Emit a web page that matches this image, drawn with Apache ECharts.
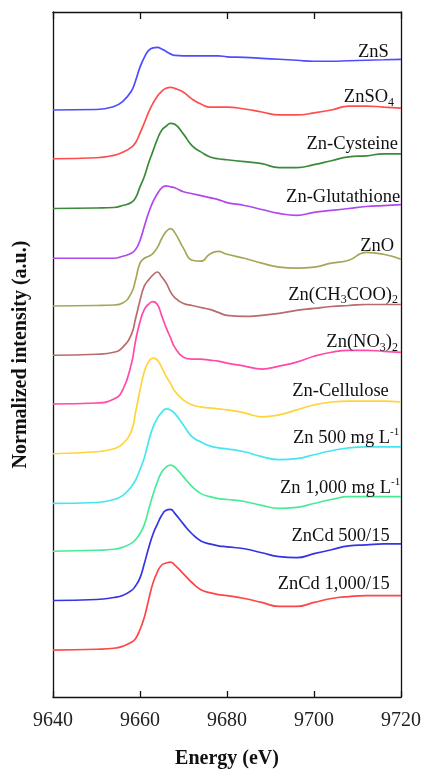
<!DOCTYPE html>
<html>
<head>
<meta charset="utf-8">
<script src="https://cdn.jsdelivr.net/npm/echarts/dist/echarts.min.js"></script>
<style>html,body{margin:0;padding:0;background:#fff;overflow:hidden}#chart{width:425px;height:774px}</style>
</head>
<body>
<div id="chart"></div>
<script>
// Energy grid (eV)
const energy = [9640, 9650, 9654, 9656, 9658, 9659, 9660, 9661, 9662, 9663, 9664, 9665, 9666, 9667, 9668, 9670, 9672, 9674, 9676, 9678, 9680, 9684, 9688, 9692, 9696, 9700, 9704, 9708, 9712, 9716, 9720];
const xTicks = [9640, 9660, 9680, 9700, 9720];

// Normalized intensities (edge step = 1)
const ZnS      = [0, 0.01, 0.07, 0.17, 0.38, 0.60, 0.87, 1.07, 1.21, 1.26, 1.27, 1.24, 1.19, 1.14, 1.11, 1.10, 1.10, 1.10, 1.10, 1.10, 1.08, 1.07, 1.05, 1.03, 1.01, 0.99, 0.99, 1.00, 1.01, 1.02, 1.03];
const ZnSO4    = [0, 0.02, 0.07, 0.13, 0.23, 0.33, 0.52, 0.73, 0.95, 1.13, 1.27, 1.37, 1.43, 1.45, 1.43, 1.35, 1.21, 1.11, 1.05, 1.05, 1.05, 1.01, 0.95, 0.89, 0.89, 0.93, 0.99, 1.07, 1.07, 1.05, 1.03];
const ZnCys    = [0, 0.01, 0.02, 0.06, 0.12, 0.22, 0.44, 0.65, 0.93, 1.17, 1.41, 1.59, 1.67, 1.73, 1.71, 1.51, 1.27, 1.15, 1.05, 1.01, 0.99, 0.95, 0.91, 0.83, 0.83, 0.89, 0.97, 1.05, 1.07, 1.11, 1.11];
const ZnGlu    = [0, 0, 0, 0.04, 0.10, 0.18, 0.36, 0.65, 0.93, 1.15, 1.31, 1.43, 1.47, 1.45, 1.43, 1.35, 1.31, 1.27, 1.23, 1.19, 1.13, 1.07, 0.99, 0.91, 0.87, 0.93, 0.97, 1.01, 1.05, 1.07, 1.09];
const ZnO      = [0, 0.01, 0.02, 0.06, 0.26, 0.54, 0.87, 0.97, 1.01, 1.07, 1.19, 1.37, 1.51, 1.57, 1.49, 1.17, 0.93, 0.91, 1.05, 1.11, 1.05, 0.97, 0.87, 0.79, 0.77, 0.79, 0.87, 0.93, 1.09, 1.05, 0.95];
const ZnAc     = [0, 0.02, 0.06, 0.16, 0.42, 0.75, 1.11, 1.41, 1.53, 1.63, 1.69, 1.59, 1.47, 1.29, 1.17, 1.05, 1.01, 0.97, 0.93, 0.87, 0.81, 0.79, 0.81, 0.85, 0.91, 0.95, 0.99, 1.01, 1.03, 1.03, 1.03];
const ZnNO3    = [0, 0.02, 0.10, 0.28, 0.81, 1.29, 1.67, 1.92, 2.03, 2.08, 2.02, 1.79, 1.55, 1.35, 1.15, 0.95, 0.91, 0.91, 0.89, 0.87, 0.83, 0.77, 0.71, 0.77, 0.85, 0.97, 1.05, 1.09, 1.09, 1.07, 1.05];
const ZnCell   = [0, 0.04, 0.10, 0.20, 0.46, 0.85, 1.29, 1.67, 1.87, 1.94, 1.90, 1.75, 1.57, 1.43, 1.27, 1.09, 0.99, 0.95, 0.93, 0.91, 0.89, 0.83, 0.75, 0.79, 0.89, 0.99, 1.05, 1.07, 1.07, 1.07, 1.05];
const Zn500    = [0, 0.02, 0.08, 0.16, 0.34, 0.48, 0.69, 0.93, 1.27, 1.55, 1.73, 1.85, 1.92, 1.90, 1.83, 1.59, 1.35, 1.25, 1.17, 1.13, 1.11, 1.05, 0.95, 0.89, 0.91, 0.99, 1.07, 1.13, 1.15, 1.15, 1.15];
const Zn1000   = [0, 0.02, 0.04, 0.08, 0.16, 0.24, 0.36, 0.54, 0.85, 1.15, 1.41, 1.61, 1.71, 1.75, 1.71, 1.51, 1.31, 1.17, 1.11, 1.07, 1.05, 1.01, 0.93, 0.87, 0.89, 0.97, 1.05, 1.11, 1.11, 1.11, 1.11];
const ZnCd500  = [0, 0.02, 0.06, 0.10, 0.20, 0.30, 0.46, 0.75, 1.07, 1.35, 1.55, 1.73, 1.83, 1.85, 1.77, 1.55, 1.35, 1.21, 1.15, 1.11, 1.09, 1.05, 0.97, 0.89, 0.87, 0.95, 1.03, 1.11, 1.13, 1.15, 1.15];
const ZnCd1000 = [0, 0.02, 0.04, 0.08, 0.16, 0.24, 0.42, 0.67, 1.03, 1.37, 1.59, 1.73, 1.77, 1.79, 1.73, 1.55, 1.37, 1.23, 1.17, 1.13, 1.11, 1.05, 0.97, 0.89, 0.89, 0.97, 1.05, 1.09, 1.11, 1.11, 1.11];

// Vertical stacking offsets (a.u.)
const offsets = [11.92, 10.93, 9.92, 8.91, 7.94, 6.94, 5.95, 4.94, 3.93, 2.96, 1.96, 0.95];
// Label anchor (right end) positions in data units
const labelX = [9717.2, 9718.4, 9719.3, 9719.8, 9718.4, 9719.3, 9719.3, 9717.2, 9719.6, 9719.8, 9717.4, 9717.4];
const labelY = [13.09, 12.18, 11.23, 10.16, 9.15, 8.17, 7.20, 6.21, 5.26, 4.25, 3.27, 2.30];

const seriesNames = ['ZnS', 'ZnSO4', 'Zn-Cysteine', 'Zn-Glutathione', 'ZnO', 'Zn(CH3COO)2', 'Zn(NO3)2', 'Zn-Cellulose', 'Zn 500 mg L-1', 'Zn 1,000 mg L-1', 'ZnCd 500/15', 'ZnCd 1,000/15'];
const labelTexts = ['{n|ZnS}', '{n|ZnSO}{s|4}', '{n|Zn-Cysteine}', '{n|Zn-Glutathione}', '{n|ZnO}', '{n|Zn(CH}{s|3}{n|COO)}{s|2}', '{n|Zn(NO}{s|3}{n|)}{s|2}', '{n|Zn-Cellulose}', '{n|Zn 500 mg L}{p|-1}', '{n|Zn 1,000 mg L}{p|-1}', '{n|ZnCd 500/15}', '{n|ZnCd 1,000/15}'];
const spectra = [ZnS, ZnSO4, ZnCys, ZnGlu, ZnO, ZnAc, ZnNO3, ZnCell, Zn500, Zn1000, ZnCd500, ZnCd1000];
const colors = ['#4d4dff', '#ff4d4d', '#3a8a3a', '#b048ee', '#a6a65a', '#b86c6c', '#ff4aa8', '#ffd43a', '#46e6f0', '#48ec96', '#3434e4', '#ff4646'];

const serif = '"Liberation Serif", "Times New Roman", serif';
const rich = {
  n: { fontFamily: serif, fontSize: 18.5, color: '#111' },
  s: { fontFamily: serif, fontSize: 12, color: '#111', padding: [11, 0, 0, 0] },
  p: { fontFamily: serif, fontSize: 11, color: '#111', padding: [0, 0, 11, 0] }
};

const series = spectra.map((arr, i) => ({
  name: seriesNames[i],
  type: 'line',
  xAxisIndex: 0,
  yAxisIndex: 0,
  smooth: 0.5,
  symbol: 'none',
  lineStyle: { color: colors[i], width: 1.7 },
  data: energy.map((e, k) => [e, +(arr[k] + offsets[i]).toFixed(3)]),
  markPoint: {
    symbol: 'circle',
    symbolSize: 0,
    silent: true,
    data: [{ coord: [labelX[i], labelY[i]] }],
    label: {
      show: true,
      position: [0, 0],
      align: 'right',
      verticalAlign: 'middle',
      formatter: labelTexts[i],
      rich: rich
    }
  }
}));

const axisLineStyle = { color: '#111', width: 1.3 };
const chart = echarts.init(document.getElementById('chart'), null, { renderer: 'canvas', width: 425, height: 774 });
chart.setOption({
  animation: false,
  backgroundColor: '#fff',
  grid: { left: 53, right: 24, top: 12, bottom: 72 },
  xAxis: [{
    type: 'value', min: 9640, max: 9720, interval: 20, position: 'bottom',
    name: 'Energy (eV)', nameLocation: 'middle', nameGap: 52,
    nameTextStyle: { fontFamily: serif, fontSize: 20, fontWeight: 'bold', color: '#111' },
    axisLine: { show: true, onZero: false, lineStyle: axisLineStyle },
    axisTick: { show: true, inside: true, length: 6, lineStyle: axisLineStyle },
    axisLabel: { fontFamily: serif, fontSize: 20, color: '#222', margin: 14, formatter: v => xTicks.includes(v) ? String(v) : '' },
    splitLine: { show: false }
  }, {
    type: 'value', min: 9640, max: 9720, interval: 20, position: 'top',
    axisLine: { show: true, onZero: false, lineStyle: axisLineStyle },
    axisTick: { show: true, inside: true, length: 7, lineStyle: axisLineStyle },
    axisLabel: { show: false },
    splitLine: { show: false }
  }],
  yAxis: [{
    type: 'value', min: 0, max: 13.91, position: 'left',
    name: 'Normalized intensity (a.u.)', nameLocation: 'middle', nameGap: 22,
    nameTextStyle: { fontFamily: serif, fontSize: 20, fontWeight: 'bold', color: '#111' },
    axisLine: { show: true, onZero: false, lineStyle: axisLineStyle },
    axisTick: { show: false },
    axisLabel: { show: false },
    splitLine: { show: false }
  }, {
    type: 'value', min: 0, max: 13.91, position: 'right',
    axisLine: { show: true, onZero: false, lineStyle: axisLineStyle },
    axisTick: { show: false },
    axisLabel: { show: false },
    splitLine: { show: false }
  }],
  series: series
});
</script>
</body>
</html>
